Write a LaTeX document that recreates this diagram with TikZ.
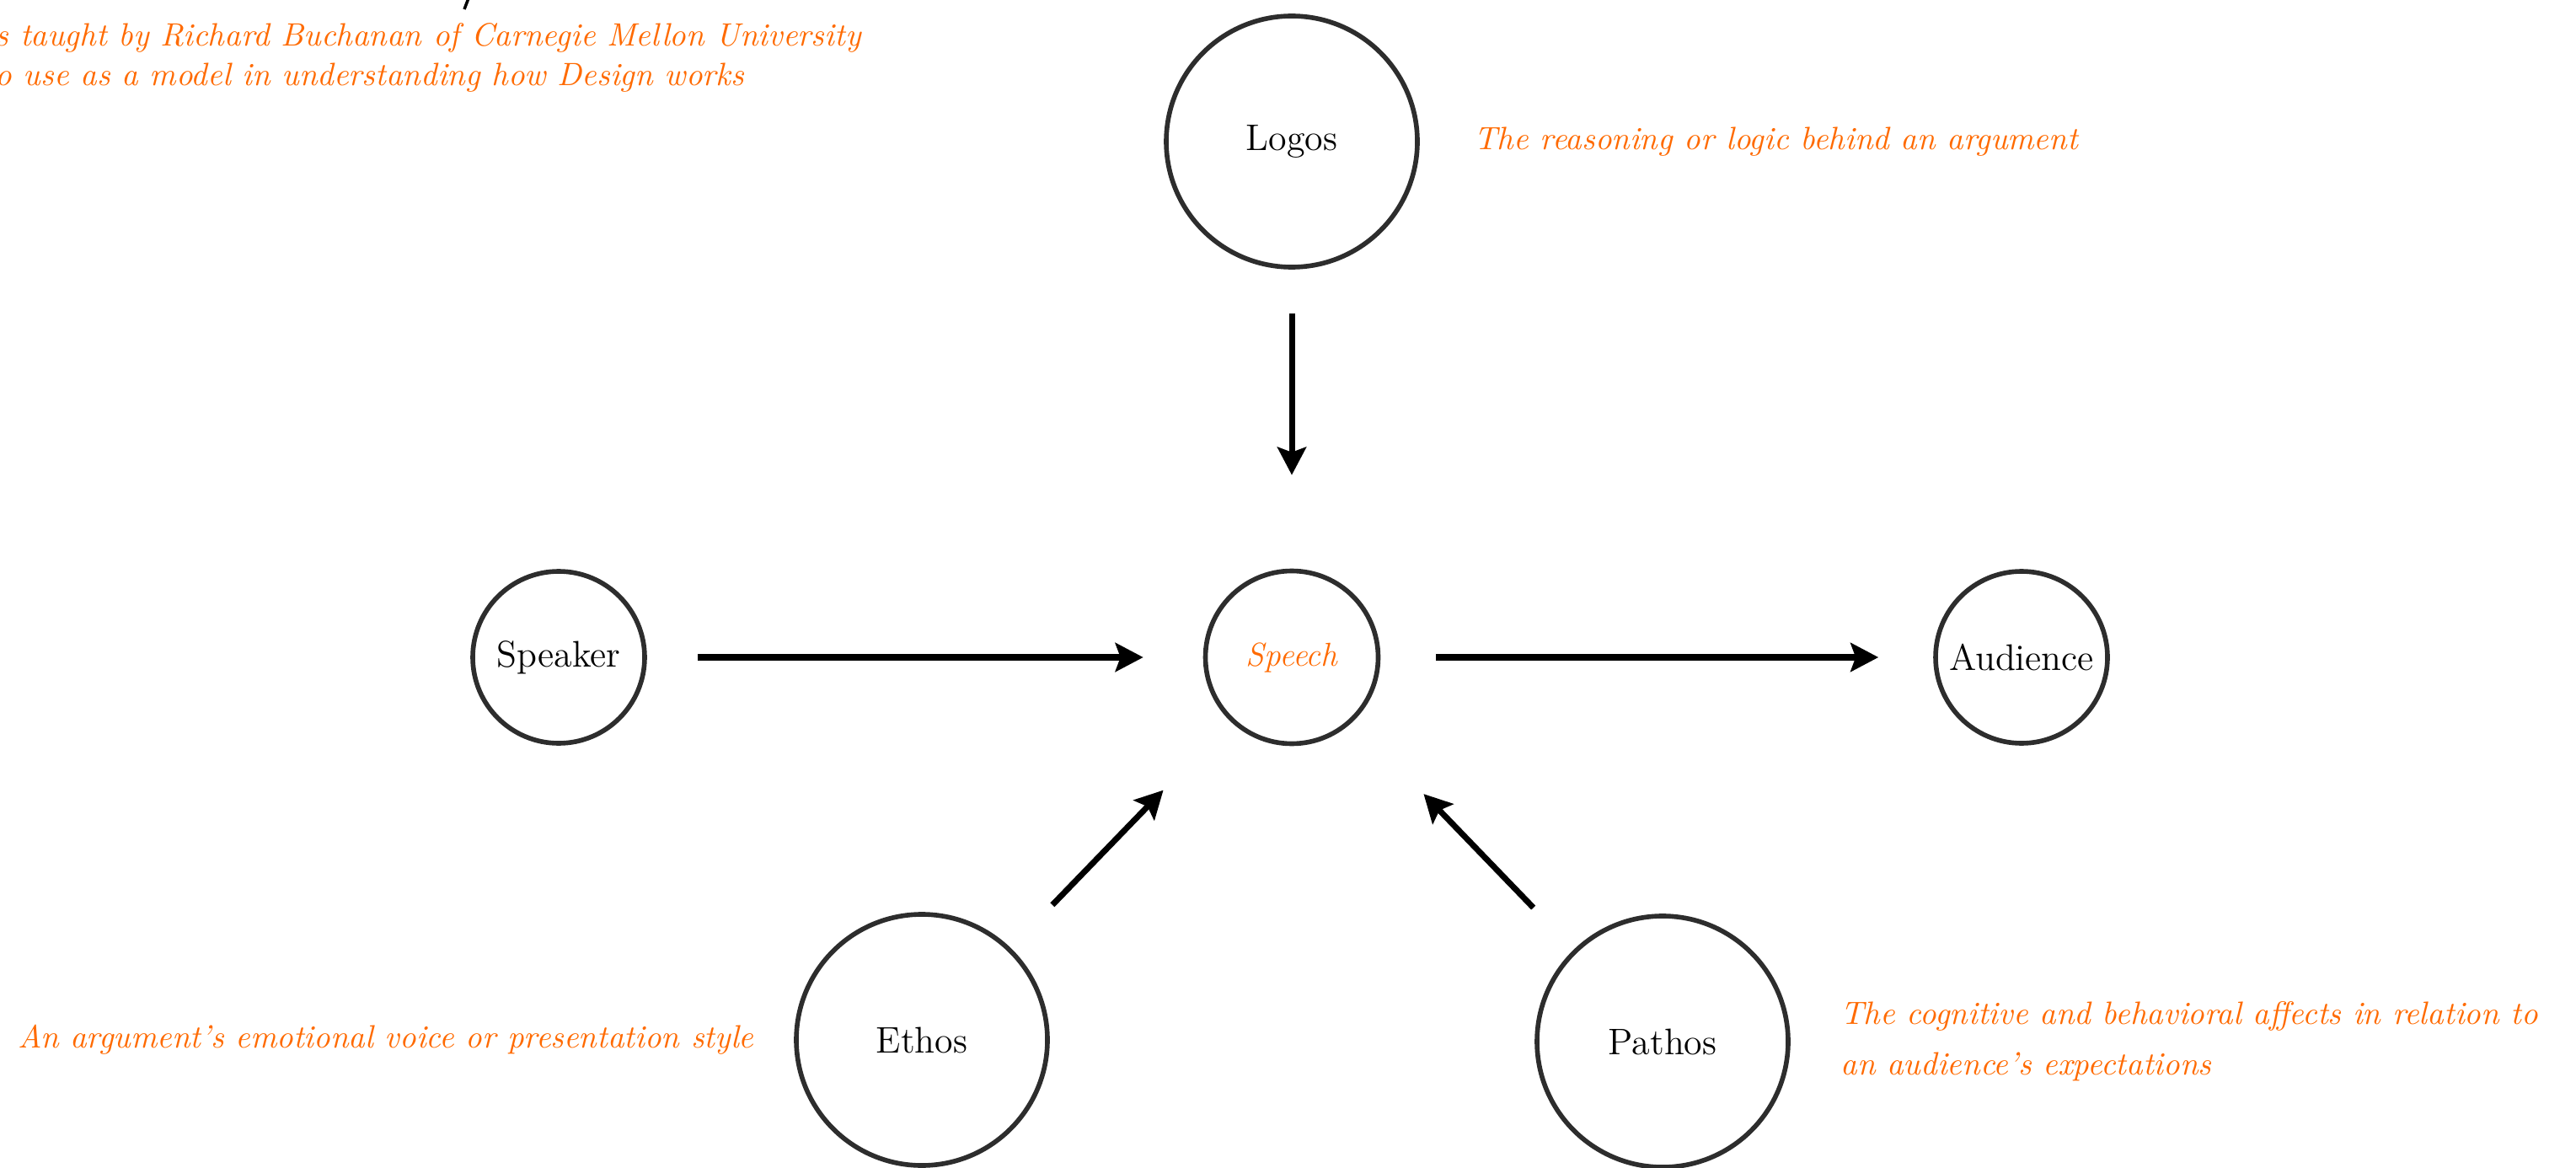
\documentclass[tikz,border=0pt]{standalone}
\usepackage{xcolor}
\usepackage{tikz}
\usetikzlibrary{arrows.meta}
\usetikzlibrary{positioning}

\definecolor{noteorange}{RGB}{255,106,0}
\definecolor{penline}{RGB}{45,45,45}

\begin{document}
\begin{tikzpicture}
\tikzset{topic/.style={circle,draw=penline,line width=1.6pt,inner sep=0pt,font=\fontsize{12.5}{15}\selectfont}}
\tikzset{note/.style={text=noteorange,inner sep=0pt,font=\itshape\fontsize{10.9}{17}\selectfont}}
\tikzset{flow/.style={line width=2pt,-{Stealth[length=0.33cm,width=0.34cm,inset=0.06cm]}}}

\useasboundingbox (0,0) rectangle (30.57,-13.86);
\clip (0,0) rectangle (30.57,-13.86);

   % the five appeals
   \node[topic,minimum size=2.98cm] (logos) at (15.33,-1.68) {Logos};
   \node[topic,minimum size=2.05cm,text=noteorange,font=\itshape\fontsize{11.2}{15}\selectfont] (speech) at (15.33,-7.80) {Speech};
   \node[topic,minimum size=2.04cm] (speaker) at (6.63,-7.80) {Speaker};
   \node[topic,minimum size=2.04cm] (audience) at (23.99,-7.80) {Audience};
   \node[topic,minimum size=2.98cm] (ethos) at (10.94,-12.34) {Ethos};
   \node[topic,minimum size=2.98cm] (pathos) at (19.73,-12.36) {Pathos};

   % arrows
   \draw[flow,shorten <=0.52cm,shorten >=1.11cm] (logos) -- (speech);
   \draw[flow,shorten <=0.60cm,shorten >=0.71cm] (speaker) -- (speech);
   \draw[flow,shorten <=0.66cm,shorten >=0.65cm] (speech) -- (audience);
   \draw[flow,shorten <=0.71cm,shorten >=1.14cm] (ethos) -- (speech);
   \draw[flow,shorten <=0.69cm,shorten >=1.20cm] (pathos) -- (speech);

   % notes
   \node[note,anchor=west,right=0.64cm of logos] (logosnote) {The reasoning or logic behind an argument};
   \node[note,anchor=east,left=0.47cm of ethos] (ethosnote) {An argument's emotional voice or presentation style};
   \node[note,anchor=west,align=left,right=0.59cm of pathos] (pathosnote) {The cognitive and behavioral affects in relation to\\an audience's expectations};
   \node[note,anchor=west,align=left,font=\itshape\fontsize{10.9}{13.4}\selectfont] (sourcenote) at (-0.06,-0.68)
      {s taught by Richard Buchanan of Carnegie Mellon University\\o use as a model in understanding how Design works};
   \draw[line width=1pt] (5.56,0.02) -- (5.51,-0.11);
\end{tikzpicture}
\end{document}
